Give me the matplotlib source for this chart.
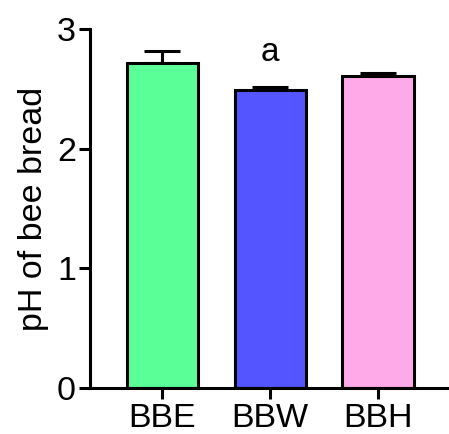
import matplotlib
matplotlib.use("Agg")
import matplotlib.pyplot as plt

# dados
grupos  = ["BBE", "BBW", "BBH"]
ph_medio = [2.72, 2.49, 2.61]
ph_erro  = [0.10, 0.03, 0.02]
cores    = ["#5BFF98", "#5555FF", "#FFAAE8"]
letras   = ["", "a", ""]

plt.rcParams["font.family"] = ["Liberation Sans", "DejaVu Sans"]

fig = plt.figure(figsize=(4.49, 4.34), dpi=100)
ax = fig.add_axes([0.2004, 0.1067, 0.7951, 0.8258])

x = range(len(grupos))
lw = 2.2
ax.bar(x, ph_medio, width=0.66, color=cores, edgecolor="black",
       linewidth=lw, zorder=2)
ax.errorbar(x, ph_medio, yerr=[[0]*len(ph_erro), ph_erro], fmt="none",
            ecolor="black", elinewidth=lw, capsize=13, capthick=lw, zorder=1)

for xi, l in zip(x, letras):
    if l:
        ax.text(xi, 2.68, l, ha="center", va="bottom", fontsize=24)

ax.set_ylim(0, 3)
ax.set_xlim(-0.67, 2.64)
ax.set_yticks([0, 1, 2, 3])
ax.set_xticks(list(x))
ax.set_xticklabels(grupos)
ax.set_ylabel("pH of bee bread", fontsize=24.5, labelpad=6)
ax.tick_params(axis="both", labelsize=24.5, width=lw, length=8, direction="out")
ax.tick_params(axis="y", pad=2)
ax.tick_params(axis="x", pad=3)
ax.spines[["top", "right"]].set_visible(False)
for s in ["left", "bottom"]:
    ax.spines[s].set_linewidth(lw)

fig.savefig("out.png", dpi=100)
